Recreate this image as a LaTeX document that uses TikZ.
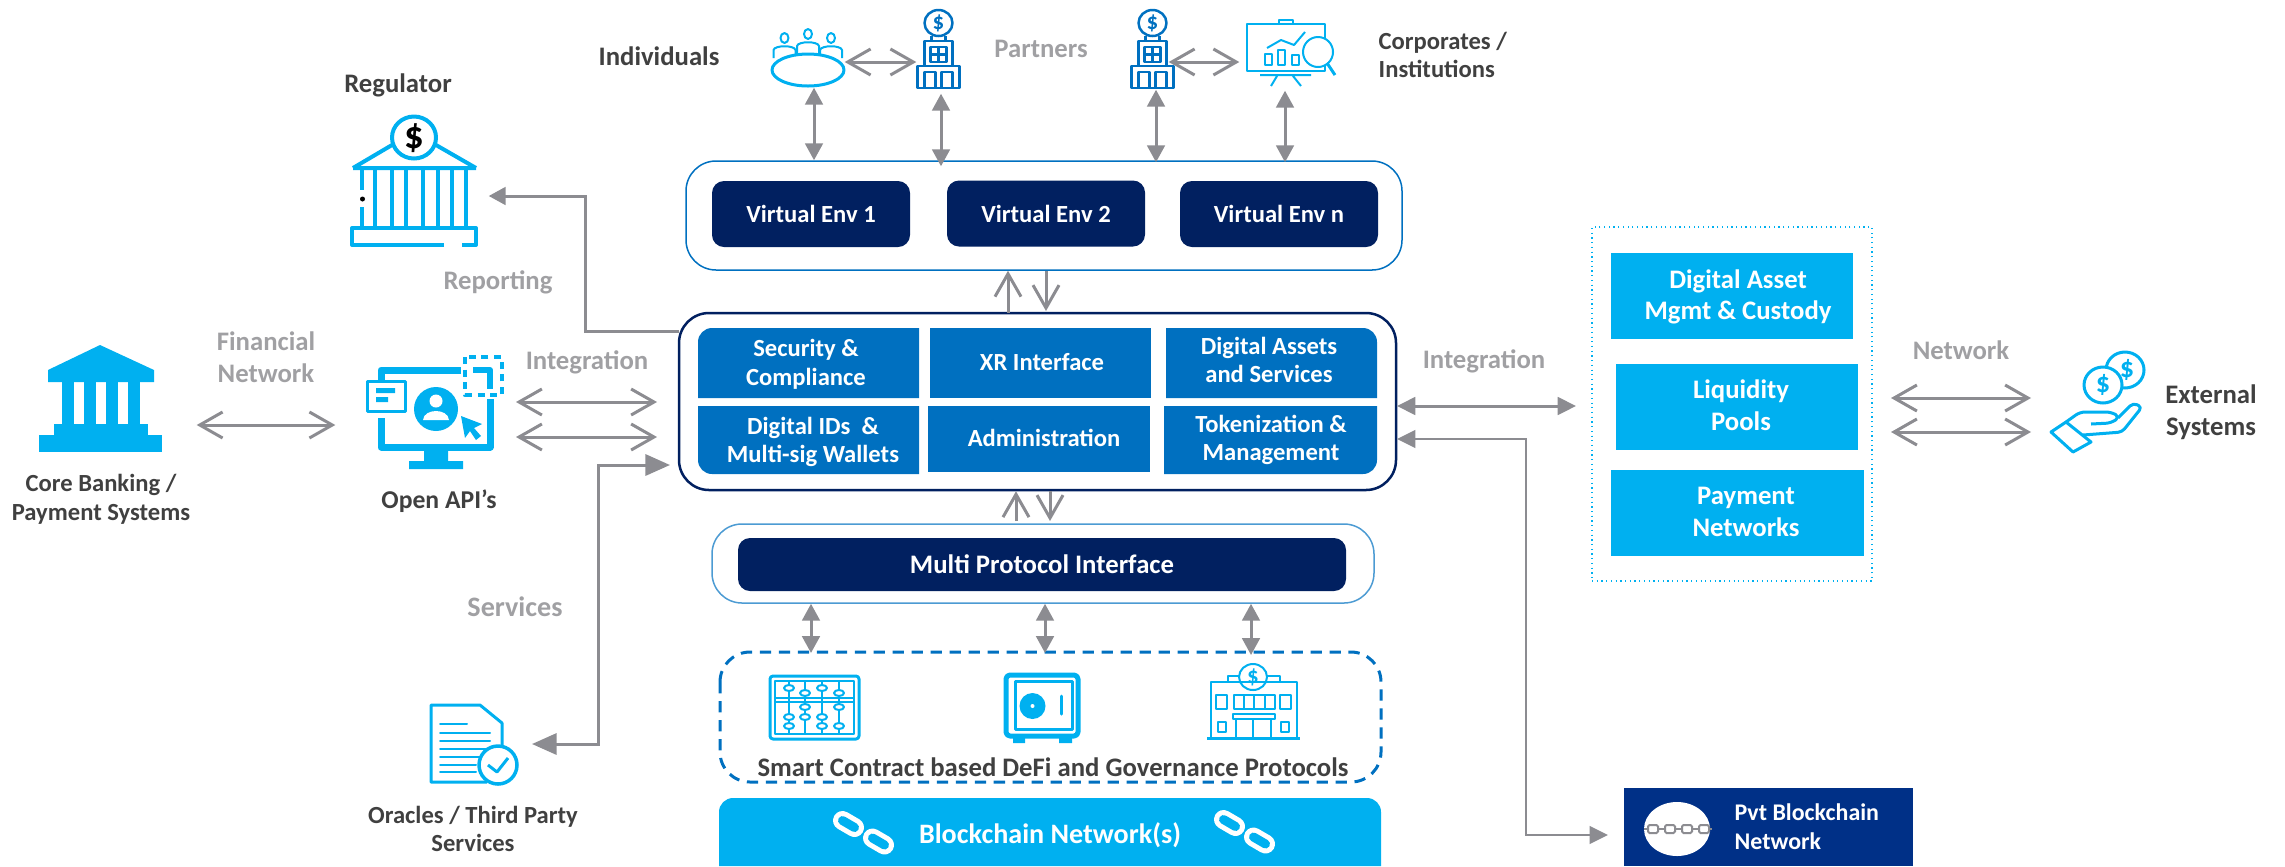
\documentclass[tikz,border=0pt]{standalone}
\usepackage{fontspec}
\setmainfont{Carlito}
\usetikzlibrary{arrows.meta}

\definecolor{navybox}{HTML}{012060}
\definecolor{cellblue}{HTML}{0070C0}
\definecolor{skyblue}{HTML}{00B0F0}
\definecolor{pvtblue}{HTML}{003087}
\definecolor{linegray}{HTML}{8C8C91}
\definecolor{labelgray}{HTML}{A0A0A3}
\definecolor{darktext}{HTML}{404040}

\tikzset{
	boxsize/.style 2 args={minimum width=#1*0.01cm,minimum height=#2*0.01cm},
	boldtext/.style={font=\fontsize{7}{8.2}\selectfont\bfseries,align=center,inner sep=0pt},
	bigtext/.style={font=\fontsize{7.6}{9}\selectfont\bfseries},
	whitetext/.style={boldtext,text=white},
	darklabel/.style={boldtext,text=darktext},
	graylabel/.style={boldtext,bigtext,text=labelgray},
	iconbox/.style={inner sep=0pt},
	frame/.style={draw=cellblue,fill=white,rounded corners=0.3cm,line width=0.015cm,inner sep=0pt},
	envbox/.style={whitetext,fill=navybox,rounded corners=0.12cm},
	assetbox/.style={fill=skyblue,inner sep=0pt},
	openlink/.style={draw=linegray,line width=0.03cm,>={Straight Barb[length=6.5pt,width=7.4pt]}},
	solidlink/.style={draw=linegray,line width=0.03cm,>={Triangle[length=4.8pt,width=5pt]}},
	icon/.style={draw=skyblue,line width=0.03cm,line join=round},
	towerline/.style={draw=cellblue,line width=0.025cm,line join=round}
}

\begin{document}
\begin{tikzpicture}[x=0.01cm,y=-0.01cm]
	\useasboundingbox (0,0) rectangle (2285,866);

	\newcommand\towerIcon[2]{
		\begin{scope}[shift={(#1,#2)}]
			\draw[towerline] (0,-25) ellipse [x radius=14,y radius=13];
			\node[boldtext,text=cellblue,font=\fontsize{6.5}{7}\selectfont\bfseries] at (0,-25) {\$};
			\draw[towerline] (-7,-12) -- (-7,-7) (7,-12) -- (7,-7);
			\draw[towerline] (-14,-7) rectangle (14,18);
			\draw[towerline] (-8,-1) rectangle (8,14) (0,-1) -- (0,14) (-8,6.5) -- (8,6.5);
			\draw[towerline] (-21,18) rectangle (21,40);
			\draw[towerline] (-14,40) -- (-14,24) -- (-3,24) -- (-3,40) (3,40) -- (3,24) -- (14,24) -- (14,40);
		\end{scope}
	}
	\newcommand\chainIcon[2]{
		\begin{scope}[shift={(#1,#2)},line cap=round]
			\draw[white,line width=0.19cm] (-21.5,-12.5) -- (-9.5,-5.5);
			\draw[skyblue,line width=0.09cm] (-21.5,-12.5) -- (-9.5,-5.5);
			\draw[white,line width=0.19cm] (8.5,5) -- (20.5,12);
			\draw[skyblue,line width=0.09cm] (8.5,5) -- (20.5,12);
		\end{scope}
	}

	% frames and inner boxes
	\node[frame,boxsize={716}{109}] (venvframe) at (1044,215.5) {};
	\node[envbox,boxsize={198}{66}] (venva) at (811,214) {Virtual Env 1};
	\node[envbox,boxsize={198}{66}] (venvb) at (1046,213.5) {Virtual Env 2};
	\node[envbox,boxsize={198}{66}] (venvn) at (1279,214) {Virtual Env n};

	\node[frame,draw=navybox,boxsize={717}{177},line width=0.025cm] (mainframe) at (1037.5,401.5) {};
	\fill[cellblue] (698,398) [rounded corners=0.14cm] -- (698,328) [sharp corners] -- (919,328) -- (919,398) -- cycle;
	\fill[cellblue] (930,328) rectangle (1151,398);
	\fill[cellblue] (1166,328) [rounded corners=0.14cm] -- (1377,328) [sharp corners] -- (1377,398) -- (1166,398) -- cycle;
	\fill[cellblue] (698,406) [rounded corners=0.14cm] -- (698,474) [sharp corners] -- (919,474) -- (919,406) -- cycle;
	\fill[cellblue] (928,406) rectangle (1150,472);
	\fill[cellblue] (1164,406) -- (1377,406) [rounded corners=0.14cm] -- (1377,474) [sharp corners] -- (1164,474) -- cycle;
	\node[whitetext] (security) at (806,364) {Security \&\\Compliance};
	\node[whitetext] (xrface) at (1042,362) {XR Interface};
	\node[whitetext] (assets) at (1269,360) {Digital Assets\\and Services};
	\node[whitetext] (digitalids) at (813,442) {Digital IDs~~\&\\Multi-sig Wallets};
	\node[whitetext] (admin) at (1044,438) {Administration};
	\node[whitetext] (tokens) at (1271,440) {Tokenization \&\\Management};

	\node[frame,boxsize={662}{79},draw=cellblue!70] (protoframe) at (1043,563.5) {};
	\node[envbox,bigtext,boxsize={608}{53}] (protocol) at (1042,564.5) {Multi Protocol Interface};

	\draw[draw=cellblue,line width=0.03cm,dash pattern=on 3.2pt off 2.2pt,rounded corners=0.3cm] (720,652) rectangle (1381,782);
	\node[darklabel,bigtext] (defilabel) at (1053,767) {Smart Contract based DeFi and Governance Protocols};

	\fill[skyblue] (719,866) [rounded corners=0.14cm] -- (719,798) -- (1381,798) [sharp corners] -- (1381,866) -- cycle;
	\node[whitetext,font=\fontsize{8}{9}\selectfont\bfseries] (chainlabel) at (1050,835) {Blockchain Network(s)};
	\chainIcon{864}{833}
	\chainIcon{1245}{832}

	\node[draw=skyblue,densely dotted,line width=0.012cm,boxsize={280}{354},inner sep=0pt] (assetframe) at (1732,404) {};
	\node[assetbox,boxsize={242}{86}] (custody) at (1732,296) {};
	\node[assetbox,boxsize={242}{86}] (liquidity) at (1737,407) {};
	\node[assetbox,boxsize={253}{86}] (payment) at (1737.5,513) {};
	\node[whitetext,bigtext] (custodytext) at (1738,297) {Digital Asset\\Mgmt \& Custody};
	\node[whitetext,bigtext] (liquiditytext) at (1741,405) {Liquidity\\Pools};
	\node[whitetext,bigtext] (paymenttext) at (1746,512) {Payment\\Networks};

	\node[fill=pvtblue,boxsize={289}{78},inner sep=0pt] (pvtbox) at (1768.5,827) {};
	\fill[white] (1677,829) ellipse [x radius=33,y radius=27];
	\draw[linegray,line width=0.02cm] (1644,829) -- (1712,829);
	\foreach \x in {1653,1670,1687,1704}
	{
		\draw[linegray,fill=white,line width=0.02cm,rounded corners=0.015cm] (\x-5,825) rectangle (\x+5,833);
	}
	\node[whitetext,anchor=west,align=left,font=\fontsize{6.8}{8.2}\selectfont\bfseries] (pvttext) at (1734,827) {Pvt Blockchain\\Network};

	% icons
	\node[iconbox,boxsize={192}{107}] (corebank) at (100,425) {};
	\fill[skyblue] (48,382) -- (48,370) -- (100,345) -- (154,370) -- (154,382) -- cycle;
	\foreach \x in {62,84,106,128}
	{
		\fill[skyblue] (\x,382) rectangle (\x+12,424);
	}
	\fill[skyblue] (54,424) rectangle (148,435);
	\fill[skyblue] (39,435) rectangle (162,452);

	\node[iconbox,boxsize={148}{130}] (regulator) at (414,196) {};
	\draw[icon,line width=0.04cm] (353,168) -- (392,145) (436,145) -- (476,168) (353,168) -- (476,168);
	\draw[icon,line width=0.04cm,fill=white] (414,137.5) ellipse [x radius=22,y radius=21];
	\node[boldtext,font=\fontsize{11}{11}\selectfont\bfseries] at (414,138) {\$};
	\draw[icon,line width=0.04cm] (362,170) -- (362,190) (362,207) -- (362,228);
	\foreach \x in {375,392,406,423,438,452,466}
	{
		\draw[icon,line width=0.04cm] (\x,170) -- (\x,228);
	}
	\fill (362.5,199) circle [radius=2.5];
	\draw[icon,line width=0.04cm] (444,245) -- (352,245) -- (352,228) -- (476,228) -- (476,245) -- (462,245);

	\node[iconbox,boxsize={180}{113}] (openapi) at (426,425) {};
	\draw[icon,line width=0.07cm] (461,370) -- (381,370) -- (381,380) (490,399) -- (490,447) -- (381,447) -- (381,418);
	\fill[skyblue] (424,451) rectangle (448,461) (409,461) rectangle (463,469);
	\draw[icon,fill=white] (367,381) rectangle (405,411);
	\fill[skyblue] (376,388) rectangle (395,393) (376,397) rectangle (388,402);
	\fill[skyblue] (436,409) ellipse [x radius=22,y radius=22];
	\fill[white] (436,401) circle [radius=6.5];
	\fill[white] (423,420) .. controls (424,408) and (448,408) .. (449,420) -- cycle;
	\fill[skyblue] (461,416) -- (482,424) -- (474,428) -- (481,436) -- (476,440) -- (470,431) -- (465,438) -- cycle;
	\draw[icon,line width=0.045cm,dash pattern=on 2pt off 1.6pt] (465,357) rectangle (502,395);
	\draw[icon,line width=0.06cm] (473,370) -- (490,370) -- (490,389);

	\node[iconbox,boxsize={60}{50}] (people) at (814,62) {};
	\foreach \x/\y in {784.5/38,808/34,831/38}
	{
		\draw[icon,line width=0.02cm] (\x,\y) ellipse [x radius=4,y radius=5];
		\draw[icon,line width=0.02cm] (\x-11,\y+20) -- (\x-11,\y+12) .. controls (\x-10,\y+7) and (\x+10,\y+7) .. (\x+11,\y+12) -- (\x+11,\y+20);
	}
	\draw[icon,fill=white] (808,70) ellipse [x radius=36,y radius=16];

	\node[iconbox,boxsize={48}{62}] (towera) at (941,62) {};
	\node[iconbox,boxsize={24}{54}] (towerb) at (1156,62) {};
	\towerIcon{938.5}{48}
	\towerIcon{1152.5}{48}

	\node[iconbox,boxsize={90}{56}] (chart) at (1285,62) {};
	\draw[icon,line width=0.02cm] (1247,24) rectangle (1325,71) (1279,24) -- (1279,20) -- (1293,20) -- (1293,24);
	\draw[icon,line width=0.02cm] (1260,75) -- (1311,75) (1277,76) -- (1271,86) (1293,76) -- (1301,86);
	\draw[icon,line width=0.02cm] (1267,48) -- (1281,40) -- (1294,45) -- (1305,32);
	\foreach \x/\y/\h in {1265/54/65,1278/50/65,1292/55/65}
	{
		\draw[icon,line width=0.02cm] (\x,\y) rectangle (\x+7,\h);
	}
	\draw[icon,line width=0.02cm,fill=white] (1318,52) circle [radius=15];
	\draw[icon] (1327,63) -- (1335,75);

	\node[iconbox,boxsize={91}{80}] (oracle) at (474,743) {};
	\draw[icon] (487,782) -- (431,782) -- (431,705) -- (480,705) -- (502,723) -- (502,750);
	\draw[icon,line width=0.02cm,line cap=round] (440,724) -- (467,724);
	\foreach \y/\e in {733/490,741/490,749/487,757/482,765/476,772/476}
	{
		\draw[icon,line width=0.02cm,line cap=round] (440,\y) -- (\e,\y);
	}
	\draw[icon,line width=0.035cm,fill=white] (498,765) circle [radius=19];
	\draw[icon] (488,765) -- (497,772) -- (508,758);

	\node[iconbox,boxsize={89}{63}] (abacus) at (814.5,707.5) {};
	\draw[icon,rounded corners=0.03cm] (770,676) rectangle (859,739);
	\draw[icon,line width=0.02cm] (775,681) rectangle (854,734) (775,698) -- (854,698) (775,702) -- (854,702);
	\foreach \x in {789,805,822,839}
	{
		\draw[icon,line width=0.02cm] (\x,681) -- (\x,734);
	}
	\foreach \x/\y in {789/688,805/693,822/688,839/693,789/717,789/726,805/707,805/717,822/717,822/726,839/707,839/726}
	{
		\draw[icon,line width=0.02cm,fill=white] (\x,\y) ellipse [x radius=5,y radius=3];
	}

	\node[iconbox,boxsize={76}{70}] (vault) at (1042,708) {};
	\draw[icon,line width=0.05cm,rounded corners=0.04cm] (1006,675) rectangle (1078,736);
	\draw[icon] (1015,681) rectangle (1072,729);
	\fill[skyblue] (1013,737) rectangle (1025,743) (1059,737) rectangle (1072,743);
	\fill[skyblue] (1032.5,706) circle [radius=13];
	\fill[white] (1032.5,706) circle [radius=2];
	\draw[icon,line cap=round] (1061,696) -- (1061,714);

	\node[iconbox,boxsize={93}{77}] (bankhouse) at (1253.5,701.5) {};
	\draw[icon,line width=0.02cm] (1228,682) -- (1228,676) -- (1280,676) -- (1280,682);
	\draw[icon,line width=0.02cm,fill=white] (1253,677) ellipse [x radius=14,y radius=13];
	\node[boldtext,text=skyblue,font=\fontsize{6.5}{7}\selectfont\bfseries] at (1253,677) {\$};
	\draw[icon,line width=0.02cm] (1211,738) -- (1211,682) -- (1297,682) -- (1297,738);
	\draw[icon,line width=0.02cm] (1216,695) rectangle (1227,709) (1234,695) rectangle (1275,709) (1280,695) rectangle (1291,709);
	\draw[icon,line width=0.02cm] (1244,695) -- (1244,709) (1254,695) -- (1254,709) (1265,695) -- (1265,709);
	\draw[icon,line width=0.02cm] (1233,714) rectangle (1275,719) (1236,719) -- (1236,738) (1253,719) -- (1253,738) (1271,719) -- (1271,738);
	\draw[icon,line width=0.02cm] (1218,722) rectangle (1226,732) (1281,722) rectangle (1289,732);
	\draw[icon] (1207,738) -- (1300,738);

	\node[iconbox,boxsize={93}{100}] (extsys) at (2097.5,402) {};
	\draw[icon] (2125,370) ellipse [x radius=19,y radius=18];
	\node[boldtext,text=skyblue,font=\fontsize{8}{8}\selectfont\bfseries] at (2127,370) {\$};
	\draw[icon,fill=white] (2103,385) ellipse [x radius=19,y radius=18];
	\node[boldtext,text=skyblue,font=\fontsize{8}{8}\selectfont\bfseries] at (2103,385) {\$};
	\draw[icon] (2051,432) -- (2066,422) -- (2091,442) -- (2073,452) -- cycle;
	\draw[icon,rounded corners=0.05cm] (2066,422) -- (2080,412) -- (2111,412) -- (2120,417) -- (2111,423) -- (2091,424);
	\draw[icon,rounded corners=0.04cm] (2118,418) -- (2133,403) -- (2142,407) -- (2122,432) -- (2083,435);

	% connectors
	\coordinate (apiupper) at (516,402);
	\coordinate (apilower) at (516,437);
	\coordinate (mainapiupper) at (657,402);
	\coordinate (mainapilower) at (657,437);
	\coordinate (mainreport) at (679,331);
	\coordinate (mainservices) at (670,465);
	\coordinate (oracleport) at (532,744);
	\coordinate (mainright) at (1397,406);
	\coordinate (mainpvt) at (1397,439);
	\coordinate (custodyport) at (1576,406);
	\coordinate (pvtport) at (1608,835);
	\coordinate (netupper) at (1891,398);
	\coordinate (netlower) at (1891,432);
	\coordinate (extupper) at (2031,398);
	\coordinate (extlower) at (2031,432);
	\coordinate (venvup) at (1008,313);
	\coordinate (venvdown) at (1046,311);
	\coordinate (mainup) at (1016,521);
	\coordinate (maindown) at (1050,521);
	\coordinate (abacusport) at (811,653);
	\coordinate (vaultport) at (1045,653);
	\coordinate (houseport) at (1251,655);

	\draw[openlink,<->] (corebank.east) -- (openapi.west);
	\draw[openlink,<->] (apiupper) -- (mainapiupper);
	\draw[openlink,<->] (apilower) -- (mainapilower);
	\draw[openlink,<->] (netupper) -- (extupper);
	\draw[openlink,<->] (netlower) -- (extlower);
	\draw[openlink,<->] (people.east) -- (towera.west);
	\draw[openlink,<->] (towerb.east) -- (chart.west);

	\draw[openlink,->] (venvup) -- (venvup |- venvframe.south);
	\draw[openlink,<-] (venvdown) -- (venvdown |- venvframe.south);
	\draw[openlink,->] (mainup) -- (mainup |- mainframe.south);
	\draw[openlink,<-] (maindown) -- (maindown |- mainframe.south);

	\draw[solidlink,<->] (people.south) -- (people.south |- venvframe.north);
	\draw[solidlink,<->,shorten >=-0.06cm] (towera.south) -- (towera.south |- venvframe.north);
	\draw[solidlink,<->,shorten >=-0.02cm] (towerb.south) -- (towerb.south |- venvframe.north);
	\draw[solidlink,<->,shorten >=-0.02cm] (chart.south) -- (chart.south |- venvframe.north);

	\draw[solidlink,<->] (abacusport) -- (abacusport |- protoframe.south);
	\draw[solidlink,<->] (vaultport) -- (vaultport |- protoframe.south);
	\draw[solidlink,<->] (houseport) -- (houseport |- protoframe.south);

	\draw[solidlink,->] (mainreport) -- ++(-94,0) |- (regulator.east);
	\draw[solidlink,<->,>={Triangle[length=7pt,width=6pt]}] (mainservices) -- ++(-72,0) |- (oracleport);
	\draw[solidlink,<->,>={Triangle[length=5.2pt,width=5pt]}] (mainright) -- (custodyport);
	\draw[solidlink,<->,line width=0.02cm,>={Triangle[length=5.2pt,width=5pt]}] (mainpvt) -- ++(129,0) |- (pvtport);

	% labels
	\node[darklabel,bigtext] (regulatorlabel) at (398,85) {Regulator};
	\node[darklabel,bigtext] (individualslabel) at (659,56) {Individuals};
	\node[graylabel] (partnerslabel) at (1041,49) {Partners};
	\node[darklabel,anchor=west,align=left] (corporateslabel) at (1378,55) {Corporates /\\Institutions};
	\node[darklabel] (corelabel) at (101,499) {Core Banking /\\Payment Systems};
	\node[darklabel,font=\fontsize{7.3}{9}\selectfont\bfseries] (apilabel) at (439,501) {Open API’s};
	\node[graylabel] (financiallabel) at (266,357) {Financial\\Network};
	\node[graylabel] (integrationleft) at (587,362) {Integration};
	\node[graylabel] (reportinglabel) at (498,282) {Reporting};
	\node[graylabel,font=\fontsize{8}{9}\selectfont\bfseries] (serviceslabel) at (515,607) {Services};
	\node[darklabel] (oraclelabel) at (473,829) {Oracles / Third Party\\Services};
	\node[graylabel] (integrationright) at (1484,361) {Integration};
	\node[graylabel] (networklabel) at (1961,350) {Network};
	\node[darklabel,bigtext] (externallabel) at (2211,412) {External\\Systems};
\end{tikzpicture}
\end{document}
